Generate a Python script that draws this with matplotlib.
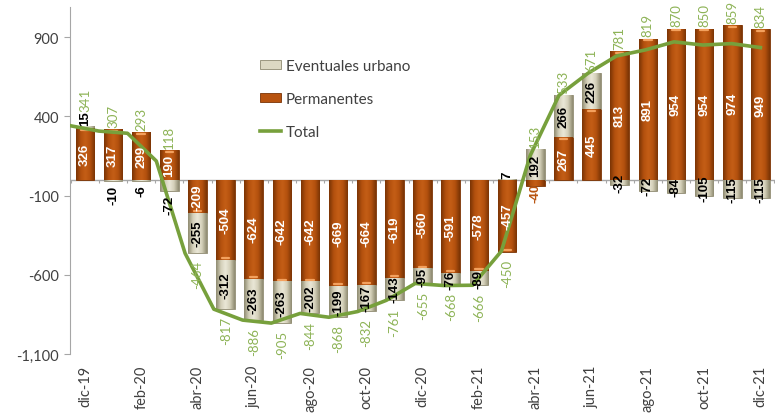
import numpy as np
import matplotlib
matplotlib.use("Agg")
import matplotlib.pyplot as plt
from matplotlib.colors import LinearSegmentedColormap
from matplotlib.lines import Line2D
from matplotlib.patches import Patch

months = ["dic-19", "ene-20", "feb-20", "mar-20", "abr-20", "may-20", "jun-20", "jul-20",
          "ago-20", "sep-20", "oct-20", "nov-20", "dic-20", "ene-21", "feb-21", "mar-21",
          "abr-21", "may-21", "jun-21", "jul-21", "ago-21", "sep-21", "oct-21", "nov-21", "dic-21"]
permanentes = [326, 317, 299, 190, -209, -504, -624, -642, -642, -669, -664, -619, -560,
               -591, -578, -457, -40, 267, 445, 813, 891, 954, 954, 974, 949]
eventuales = [15, -10, -6, -72, -255, -312, -263, -263, -202, -199, -167, -143, -95,
              -76, -89, 7, 192, 266, 226, -32, -72, -84, -105, -115, -115]
total = [341, 307, 293, 118, -464, -817, -886, -905, -844, -868, -832, -761, -655,
         -668, -666, -450, 153, 533, 671, 781, 819, 870, 850, 859, 834]
yticks = [-1100, -600, -100, 400, 900]

FONT = ["Lato", "DejaVu Sans"]
LBL = ["Liberation Sans Narrow", "Liberation Sans", "DejaVu Sans"]
GREEN = "#77a03c"
GREEN_TXT = "#8db356"
BROWN = "#b8530f"
BEIGE = "#dcd8c2"

fig = plt.figure(figsize=(7.8, 4.14), dpi=100)
ax = fig.add_axes([70 / 780, 1 - 355 / 414, 705 / 780, 347 / 414])

n = len(months)
x = np.arange(n)
perm = np.array(permanentes, float)
ev = np.array(eventuales, float)
pos_base = np.where(perm > 0, perm, 0)
neg_base = np.where(perm < 0, perm, 0)
ev_bottom = np.where(ev >= 0, pos_base, neg_base)
stack_top = np.maximum(pos_base + np.where(ev > 0, ev, 0), 0)
stack_bot = np.minimum(neg_base + np.where(ev < 0, ev, 0), 0)

w = 0.66
b1 = ax.bar(x, perm, w, color=BROWN, edgecolor="#7a3405", linewidth=0.6, zorder=2)
b2 = ax.bar(x, ev, w, bottom=ev_bottom, color=BEIGE, edgecolor="#8e8a70", linewidth=0.6, zorder=2)

cm_perm = LinearSegmentedColormap.from_list("p", ["#7a3405", "#b4510e", "#c45e16", "#b4510e", "#7a3405"])
cm_ev = LinearSegmentedColormap.from_list("e", ["#8e8a70", "#d3cfb8", "#ebe8d8", "#d3cfb8", "#8e8a70"])
grad = np.linspace(0, 1, 64).reshape(1, -1)
for cont, cm in ((b1, cm_perm), (b2, cm_ev)):
    for p in cont.patches:
        bx, by = p.get_x(), p.get_y()
        bw, bh = p.get_width(), p.get_height()
        if bh == 0:
            continue
        y0, y1 = min(by, by + bh), max(by, by + bh)
        im = ax.imshow(grad, extent=[bx, bx + bw, y0, y1], cmap=cm, aspect="auto",
                       zorder=2.1, interpolation="bicubic")
        im.set_clip_path(p)
for p, v in zip(b1.patches, perm):
    if abs(v) > 100:
        ax.plot([p.get_x() + p.get_width() * 0.3, p.get_x() + p.get_width() * 0.7],
                [v - np.sign(v) * 12] * 2, color="#f3a15e", lw=1.6, zorder=2.2,
                solid_capstyle="round")

xlo, xhi = -0.53, n - 0.48
xl = np.linspace(xlo, n - 1, n)
ax.plot(xl, total, color=GREEN, lw=2.6, zorder=4, solid_joinstyle="round")

lkw = dict(rotation=90, ha="center", fontsize=9.5, fontweight="bold", family=LBL, zorder=5)
for i, v in enumerate(perm):
    if abs(v) >= 100:
        ax.text(i, v / 2, f"{int(v)}", va="center", color="white", **lkw)
    else:
        ax.text(i, v - 18 * np.sign(v), f"{int(v)}", va="top" if v < 0 else "bottom",
                color="#b8530f", **lkw)

ev_out = {"dic-19", "ene-20", "feb-20", "mar-20", "mar-21"}
extra_top = np.zeros(n)
for i, v in enumerate(ev):
    end = ev_bottom[i] + v
    if months[i] in ev_out:
        if v < 0:
            ax.text(i, end - 25, f"{int(v)}", va="top", color="black", **lkw)
        else:
            ax.text(i, end + 6, f"{int(v)}", va="bottom", color="black", **lkw)
            extra_top[i] = 80
    else:
        ax.text(i, ev_bottom[i] + v / 2, f"{int(v)}", va="center", color="black", **lkw)

for i, v in enumerate(total):
    if v >= 0:
        ax.annotate(f"{v}", (i, stack_top[i] + extra_top[i]), xytext=(0, 1.5),
                    textcoords="offset points", rotation=90, ha="center", va="bottom",
                    color=GREEN_TXT, fontsize=9.5, family=FONT, zorder=5)
    else:
        ax.annotate(f"{v}", (i, stack_bot[i]), xytext=(0, -5), textcoords="offset points",
                    rotation=90, ha="center", va="top", color=GREEN_TXT, fontsize=9.5,
                    family=FONT, zorder=5)

ax.set_xlim(xlo, xhi)
ax.set_ylim(-1100, 1090)
ax.axhline(0, color="#a6a6a6", lw=1, zorder=1.5)
ax.vlines(np.arange(n + 1) - 0.5, -22, 0, color="#a6a6a6", lw=0.8, zorder=1.5)

ax.set_yticks(yticks)
ax.set_yticklabels([f"{t:,}" for t in yticks], family=FONT, fontsize=10.5, color="#404040")
ax.set_xticks(x[::2])
ax.set_xticklabels(months[::2], rotation=90, family=FONT, fontsize=10.5, color="#404040")
ax.tick_params(axis="x", length=0, pad=8)
ax.tick_params(axis="y", length=4, color="#a6a6a6", pad=4)
for s in ("top", "right", "bottom"):
    ax.spines[s].set_visible(False)
ax.spines["left"].set_color("#a6a6a6")
ax.set_facecolor("none")

handles = [Patch(facecolor=BEIGE, edgecolor="#8e8a70", lw=0.6),
           Patch(facecolor=BROWN, edgecolor="#7a3405", lw=0.6),
           Line2D([0], [0], color=GREEN, lw=2.6)]
leg = ax.legend(handles, ["Eventuales urbano", "Permanentes", "Total"], loc="upper left",
                bbox_to_anchor=(0.25, 0.89), frameon=False, handlelength=1.4, handleheight=0.45,
                labelspacing=1.25, handletextpad=0.3, prop={"family": FONT, "size": 11})
for t in leg.get_texts():
    t.set_color("#404040")

fig.savefig("out.png", dpi=100)
